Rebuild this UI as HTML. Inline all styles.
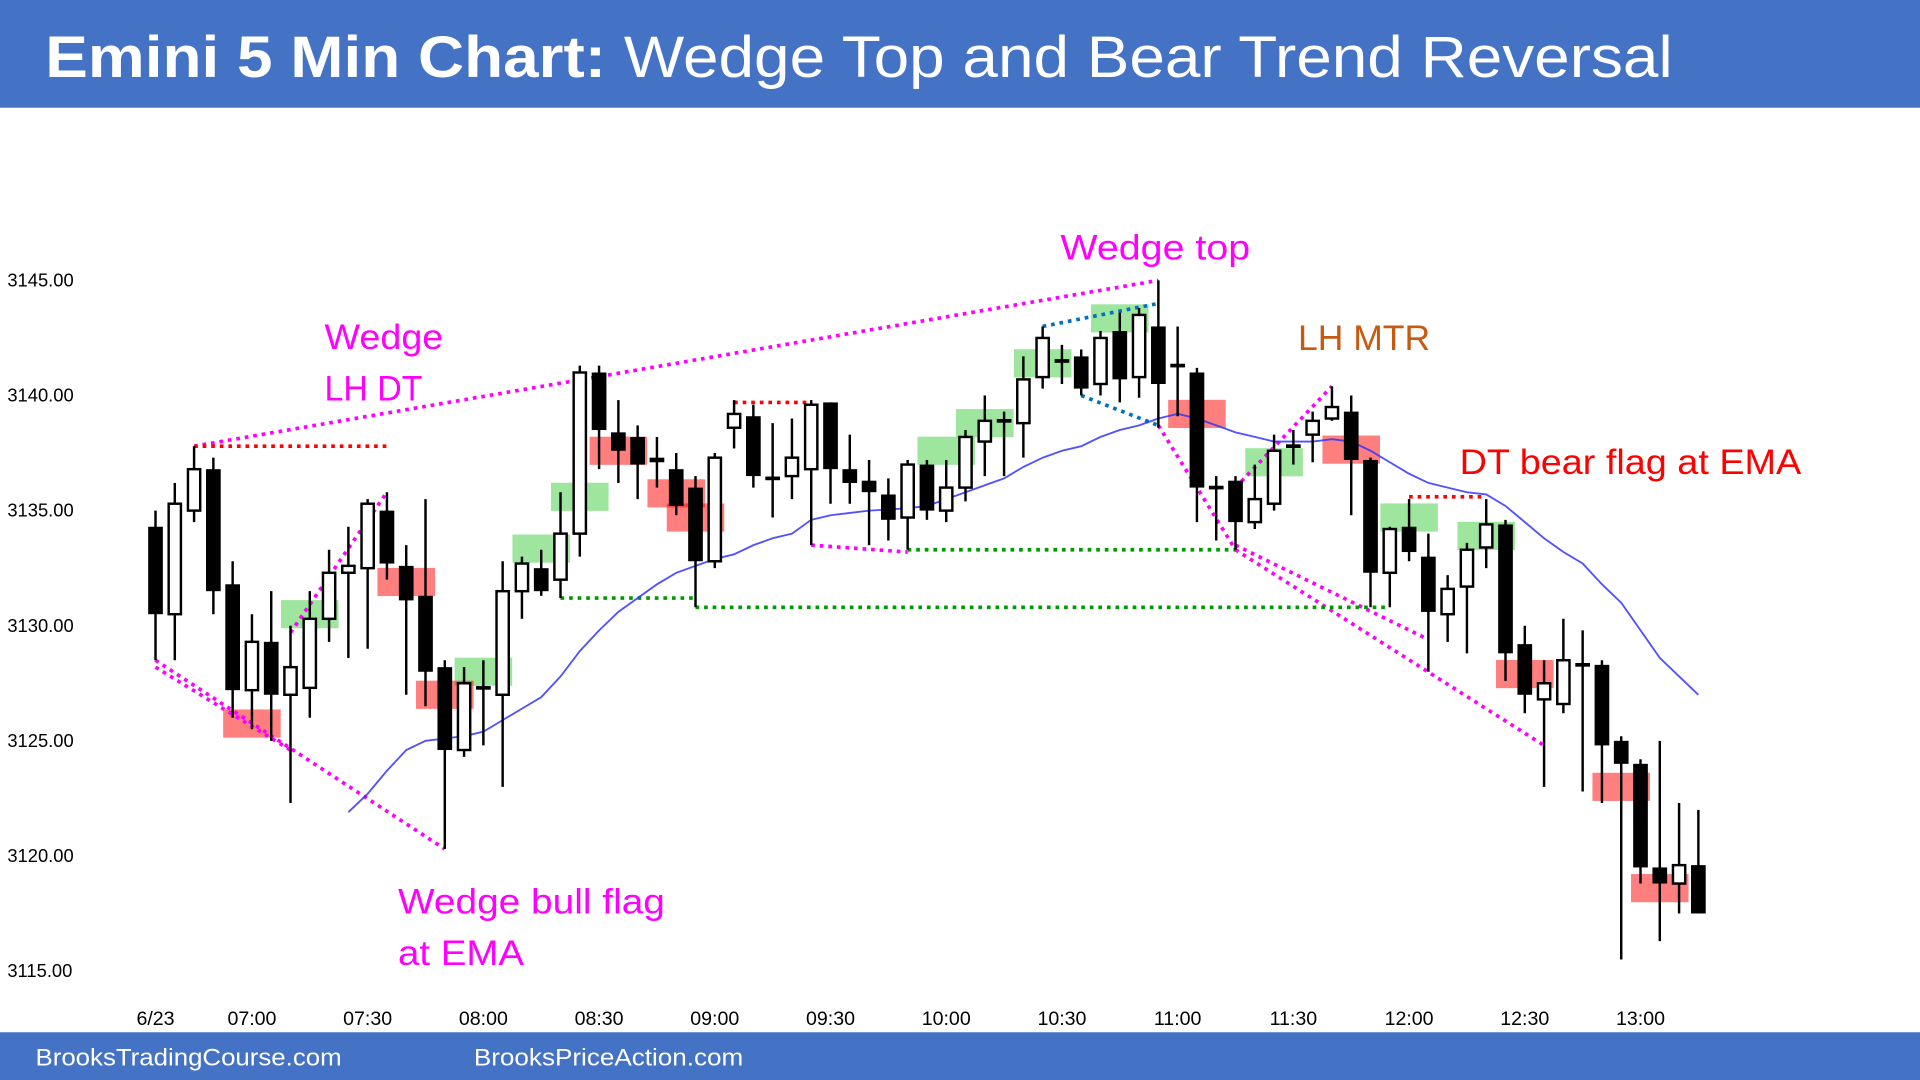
<!DOCTYPE html>
<html><head><meta charset="utf-8"><style>
html,body{margin:0;padding:0;background:#fff;}
svg{display:block;font-family:"Liberation Sans",sans-serif;}
</style></head><body>
<svg id="chart" width="1920" height="1080" viewBox="0 0 1568 882" xmlns="http://www.w3.org/2000/svg">
<rect x="0" y="0" width="1568" height="882" fill="#fff"/>
<rect x="0" y="0" width="1568" height="88" fill="#4472c4"/>
<text x="37" y="63" font-size="48" fill="#fff" textLength="1329" lengthAdjust="spacingAndGlyphs"><tspan font-weight="bold">Emini 5 Min Chart:</tspan> Wedge Top and Bear Trend Reversal</text>
<rect x="0" y="843" width="1568" height="39" fill="#4472c4"/>
<text x="29" y="870" font-size="20" fill="#fff" textLength="250" lengthAdjust="spacingAndGlyphs">BrooksTradingCourse.com</text>
<text x="387" y="870" font-size="20" fill="#fff" textLength="220" lengthAdjust="spacingAndGlyphs">BrooksPriceAction.com</text>
<g id="yaxis"></g><g id="xaxis"></g><g id="boxes"></g><g id="lines"></g><g id="ema"></g><g id="candles"></g>
<text x="265" y="285" font-size="29" fill="#ff00ff" textLength="97" lengthAdjust="spacingAndGlyphs">Wedge</text>
<text x="265" y="327" font-size="29" fill="#ff00ff" textLength="80" lengthAdjust="spacingAndGlyphs">LH DT</text>
<text x="866" y="212" font-size="29" fill="#ff00ff" textLength="155" lengthAdjust="spacingAndGlyphs">Wedge top</text>
<text x="1060" y="286" font-size="29" fill="#c55a11">LH MTR</text>
<text x="1192" y="387" font-size="29" fill="#ff0000" textLength="279" lengthAdjust="spacingAndGlyphs">DT bear flag at EMA</text>
<text x="325" y="746" font-size="29" fill="#ff00ff" textLength="218" lengthAdjust="spacingAndGlyphs">Wedge bull flag</text>
<text x="325" y="788" font-size="29" fill="#ff00ff" textLength="103" lengthAdjust="spacingAndGlyphs">at EMA</text>
</svg>
<script>
const opens=[3134.3,3130.5,3135,3136.8,3131.8,3127.2,3129.3,3127,3127.3,3130.3,3132.3,3132.5,3135,3132.6,3131.3,3128.2,3124.6,3127.3,3127,3131.5,3132.5,3132,3134,3141,3138.4,3138.2,3137.3,3136.8,3136,3132.8,3138.6,3139.1,3136.4,3136.5,3136.8,3139.7,3136.8,3136.3,3135.7,3134.7,3137,3135,3136,3138,3138.9,3138.8,3140.8,3141.5,3141.7,3140.5,3142.8,3140.8,3143,3141.3,3141,3136,3136.3,3134.5,3135.3,3137.8,3138.3,3139,3139.3,3137.2,3132.3,3134.3,3133,3130.5,3131.7,3133.4,3134.4,3129.2,3126.8,3126.6,3128.3,3128.3,3125,3124,3119.5,3118.8,3119.6];
const closes=[3130.5,3135.3,3136.8,3131.5,3127.2,3129.3,3127,3128.2,3130.3,3132.3,3132.6,3135.3,3132.7,3131.1,3128,3124.6,3127.5,3127.2,3131.5,3132.7,3131.5,3134,3141,3138.5,3137.6,3137,3137.1,3135.2,3132.8,3137.3,3139.2,3136.5,3136.3,3137.3,3139.6,3136.8,3136.2,3135.8,3134.6,3137,3135,3136,3138.2,3138.9,3138.8,3140.7,3142.5,3141.4,3140.3,3142.5,3140.7,3143.5,3140.5,3141.2,3136,3135.9,3134.5,3135.5,3137.6,3137.7,3138.9,3139.5,3137.2,3132.3,3134.2,3133.2,3130.6,3131.6,3133.3,3134.4,3128.8,3127,3127.5,3128.5,3128.2,3124.8,3124,3119.5,3118.8,3119.6,3117.5];
const highs=[3135,3136.2,3137.8,3137.3,3132.8,3130.5,3131.5,3130,3131.5,3133.3,3134.3,3135.5,3135.8,3133.5,3135.5,3128.5,3128.2,3128.5,3132.8,3133,3133.3,3135.8,3141.3,3141.3,3139.8,3138.7,3138.2,3137.5,3136.5,3137.5,3139.8,3139.6,3138.8,3139,3139.8,3139.7,3138.3,3137.2,3136.4,3137.2,3137.2,3137.2,3138.5,3140,3139.3,3141.7,3143,3142.2,3142,3142.8,3143.6,3143.8,3145,3143,3141.2,3136.5,3136.5,3137,3138.3,3138.5,3139.3,3140.4,3140,3137.3,3134.3,3135.5,3134,3132.2,3133.6,3135.5,3134.6,3130,3128.5,3130.3,3129.8,3128.5,3125.2,3124.2,3125,3122.3,3122];
const lows=[3128.5,3128.5,3134.5,3130.5,3126,3125.5,3125,3122.3,3126,3129.3,3128.6,3129,3132,3127,3126.5,3120.3,3124.3,3124.8,3123,3130.3,3131.3,3131.2,3133,3136.8,3136.2,3135.5,3136,3134.8,3130.8,3132.5,3137.7,3136,3134.7,3135.5,3133.5,3135.3,3135.3,3133.5,3133.7,3133.3,3134.6,3134.5,3135.4,3136.5,3136.5,3137.3,3140.3,3140.5,3140,3140,3139.7,3139.9,3138.6,3139.1,3134.5,3133.7,3133.3,3134.2,3135,3137,3137.1,3138.9,3134.8,3130.8,3130.8,3132.8,3128,3129.3,3128.8,3132.5,3127.6,3126.2,3123,3126.2,3122.8,3122.3,3115.5,3118.8,3116.3,3117.5,3117.5];
const emaStart=10;
const emaValues=[3121.9,3122.7,3123.7,3124.6,3125.0,3125.1,3125.2,3125.4,3125.9,3126.4,3126.9,3127.8,3128.9,3129.8,3130.6,3131.2,3131.8,3132.3,3132.6,3132.9,3133.1,3133.5,3133.8,3134.0,3134.6,3134.8,3134.9,3135.0,3135.05,3135.1,3135.2,3135.5,3135.8,3136.1,3136.4,3136.9,3137.3,3137.6,3137.8,3138.2,3138.5,3138.7,3139.0,3139.2,3139.0,3138.7,3138.4,3138.2,3138.0,3138.0,3138.0,3138.1,3138.0,3137.6,3137.1,3136.6,3136.2,3136.0,3135.8,3135.7,3135.2,3134.5,3133.8,3133.2,3132.7,3131.8,3131.0,3129.8,3128.6,3127.8,3127.0];
const yTicks=[3145,3140,3135,3130,3125,3120,3115];
const xTickLabels=["6/23","07:00","07:30","08:00","08:30","09:00","09:30","10:00","10:30","11:00","11:30","12:00","12:30","13:00"];
const xTickBars=[0,5,11,17,23,29,35,41,47,53,59,65,71,77];
const greenBoxBars=[8,17,20,22,41,43,46,50,58,65,69];
const greenBoxPrices=[3130.5,3128.0,3133.35,3135.6,3137.6,3138.8,3141.4,3143.35,3137.1,3134.7,3133.9];
const redBoxBars=[5,13,15,24,27,28,54,62,71,76,78];
const redBoxPrices=[3125.75,3131.9,3127.0,3137.6,3135.75,3134.7,3139.2,3137.65,3127.9,3123.0,3118.6];
const magentaLines=[[2,3137.8,52,3145],[0,3128.5,15,3120.3],[0,3128.2,7,3124.6],[7,3129.7,12,3135.8],[34,3133.5,39,3133.2],[52,3138.7,56,3133.3],[56,3133.3,72,3124.8],[56,3133.5,66,3129.4],[56,3136,61,3140.4]];
const redLines=[[2,3137.8,12,3137.8],[30,3139.7,34,3139.7],[65,3135.6,69,3135.6]];
const greenLines=[[21,3131.2,28,3131.2],[28,3130.8,64,3130.8],[39,3133.3,56,3133.3]];
const blueLines=[[46,3143,52,3144],[48,3140,52,3138.7]];

const NS="http://www.w3.org/2000/svg";
function xs(i){return 127+i*15.75;}
function ys(p){return 229+(3145-p)*18.8;}
function mk(tag,attrs,parent){const e=document.createElementNS(NS,tag);for(const k in attrs)e.setAttribute(k,attrs[k]);parent.appendChild(e);return e;}
const gy=document.getElementById('yaxis');
yTicks.forEach(t=>{const e=mk('text',{x:6,y:ys(t)+5,'font-size':15,fill:'#000'},gy);e.textContent=t.toFixed(2);

});
const gx=document.getElementById('xaxis');
xTickLabels.forEach((l,k)=>{const e=mk('text',{x:xs(xTickBars[k]),y:837,'font-size':16,fill:'#000','text-anchor':'middle'},gx);e.textContent=l;

});
const gb=document.getElementById('boxes');
greenBoxBars.forEach((b,k)=>{const e=mk('rect',{x:xs(b)-23.5,y:ys(greenBoxPrices[k])-11.5,width:47,height:23,fill:'#4fcf4f','fill-opacity':0.55},gb);

});
redBoxBars.forEach((b,k)=>{const e=mk('rect',{x:xs(b)-23.5,y:ys(redBoxPrices[k])-11.5,width:47,height:23,fill:'#ff0000','fill-opacity':0.5},gb);

});
const gl=document.getElementById('lines');
function dl(arr,color,name){arr.forEach(a=>{const e=mk('line',{x1:xs(a[0]),y1:ys(a[1]),x2:xs(a[2]),y2:ys(a[3]),stroke:color,'stroke-width':3,'stroke-dasharray':'3 4'},gl);

});}
dl(magentaLines,'#ff00ff','wedge-trendline');dl(redLines,'#ff0000','double-top-line');dl(greenLines,'#009900','support-line');dl(blueLines,'#0070c0','channel-line');
const ge=document.getElementById('ema');
const pts=emaValues.map((v,k)=>xs(emaStart+k).toFixed(1)+','+ys(v).toFixed(1)).join(' ');
const emaLine=mk('polyline',{points:pts,fill:'none',stroke:'#3333ff','stroke-width':1.5,'stroke-opacity':0.85},ge);


const gc=document.getElementById('candles');
opens.forEach((o,i)=>{const c=closes[i],x=xs(i);
const g=mk('g',{},gc);


mk('line',{x1:x,x2:x,y1:ys(highs[i]),y2:ys(lows[i]),stroke:'#000','stroke-width':2},g);
const top=ys(Math.max(o,c)),bot=ys(Math.min(o,c));let h=bot-top;
if(h<2){mk('rect',{x:x-6,y:top-1.5,width:12,height:3,fill:'#000'},g);}
else if(c>=o){mk('rect',{x:x-5,y:top,width:10,height:h,fill:'#fff',stroke:'#000','stroke-width':2},g);}
else{mk('rect',{x:x-6,y:top,width:12,height:h,fill:'#000'},g);}
});
</script>
</body></html>
